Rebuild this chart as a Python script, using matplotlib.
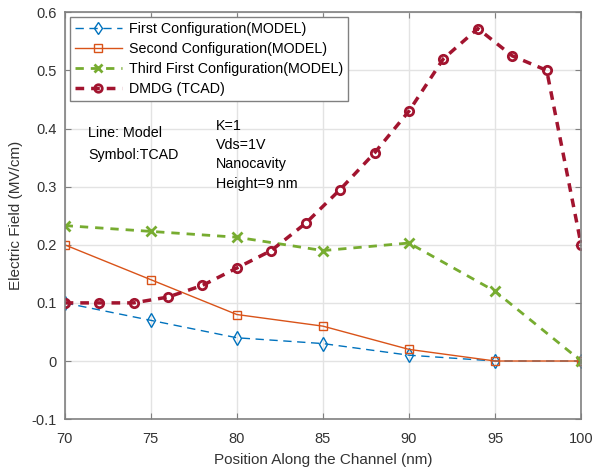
import matplotlib.pyplot as plt

plt.rcParams['font.family'] = ['Liberation Sans', 'DejaVu Sans']
plt.rcParams['font.size'] = 10

x_model = [70, 75, 80, 85, 90, 95, 100]
first_cfg = [0.10, 0.07, 0.04, 0.03, 0.01, 0.0, 0.0]
second_cfg = [0.20, 0.14, 0.08, 0.06, 0.02, 0.0, 0.0]
third_cfg = [0.233, 0.223, 0.213, 0.19, 0.203, 0.12, 0.0]

x_tcad = [70, 72, 74, 76, 78, 80, 82, 84, 86, 88, 90, 92, 94, 96, 98, 100]
dmdg = [0.10, 0.10, 0.10, 0.11, 0.13, 0.16, 0.19, 0.237, 0.295, 0.358,
        0.43, 0.52, 0.572, 0.525, 0.50, 0.20]

blue = '#0072BD'
orange = '#D95319'
green = '#77AC30'
red = '#A2142F'
axcol = '#808080'
txtcol = '#333333'

fig = plt.figure(figsize=(5.93, 4.72), dpi=100)
ax = fig.add_axes([0.109, 0.112, 0.871, 0.862])

ax.plot(x_model, first_cfg, color=blue, ls=(0, (6, 4)), lw=1.0, marker='d',
        ms=7, mfc='none', mew=1.0, label='First Configuration(MODEL)')
ax.plot(x_model, second_cfg, color=orange, ls='-', lw=1.0, marker='s',
        ms=6, mfc='none', mew=1.0, label='Second Configuration(MODEL)')
ax.plot(x_model, third_cfg, color=green, ls=(0, (3, 2.5)), lw=2.0, marker='x',
        ms=7, mew=2.0, label='Third First Configuration(MODEL)')
ax.plot(x_tcad, dmdg, color=red, ls=(0, (2.5, 2)), lw=2.5, marker='o',
        ms=6, mfc='none', mew=2.0, label='DMDG (TCAD)')

ax.set_xlim(70, 100)
ax.set_ylim(-0.1, 0.6)
ax.set_xticks([70, 75, 80, 85, 90, 95, 100])
ax.set_yticks([-0.1, 0, 0.1, 0.2, 0.3, 0.4, 0.5, 0.6])
ax.set_yticklabels(['-0.1', '0', '0.1', '0.2', '0.3', '0.4', '0.5', '0.6'])
ax.grid(True, color='#e3e3e3', lw=1.0)
ax.set_axisbelow(True)
ax.tick_params(direction='in', top=True, right=True, color=axcol,
               labelcolor=txtcol, labelsize=10.5, length=4)
ax.tick_params(axis='x', pad=9)
ax.tick_params(axis='y', pad=6)
for s in ax.spines.values():
    s.set_color(axcol)
    s.set_linewidth(1.2)

ax.set_xlabel('Position Along the Channel (nm)', fontsize=11, color=txtcol,
              labelpad=5)
ax.set_ylabel('Electric Field (MV/cm)', fontsize=11, color=txtcol,
              labelpad=6)

ax.text(71.35, 0.393, 'Line: Model', fontsize=10.3, va='center')
ax.text(71.35, 0.355, 'Symbol:TCAD', fontsize=10.3, va='center')
ax.text(78.8, 0.405, 'K=1', fontsize=10.3, va='center')
ax.text(78.8, 0.372, 'Vds=1V', fontsize=10.3, va='center')
ax.text(78.8, 0.339, 'Nanocavity', fontsize=10.3, va='center')
ax.text(78.8, 0.305, 'Height=9 nm', fontsize=10.3, va='center')

leg = ax.legend(loc='upper left', fontsize=10.3, fancybox=False,
                edgecolor=axcol, framealpha=1, borderpad=0.35,
                labelspacing=0.42, handlelength=3.3, handletextpad=0.5,
                borderaxespad=0.35, markerscale=0.9)
leg.get_frame().set_linewidth(1.0)

fig.savefig('out.png', dpi=100)
